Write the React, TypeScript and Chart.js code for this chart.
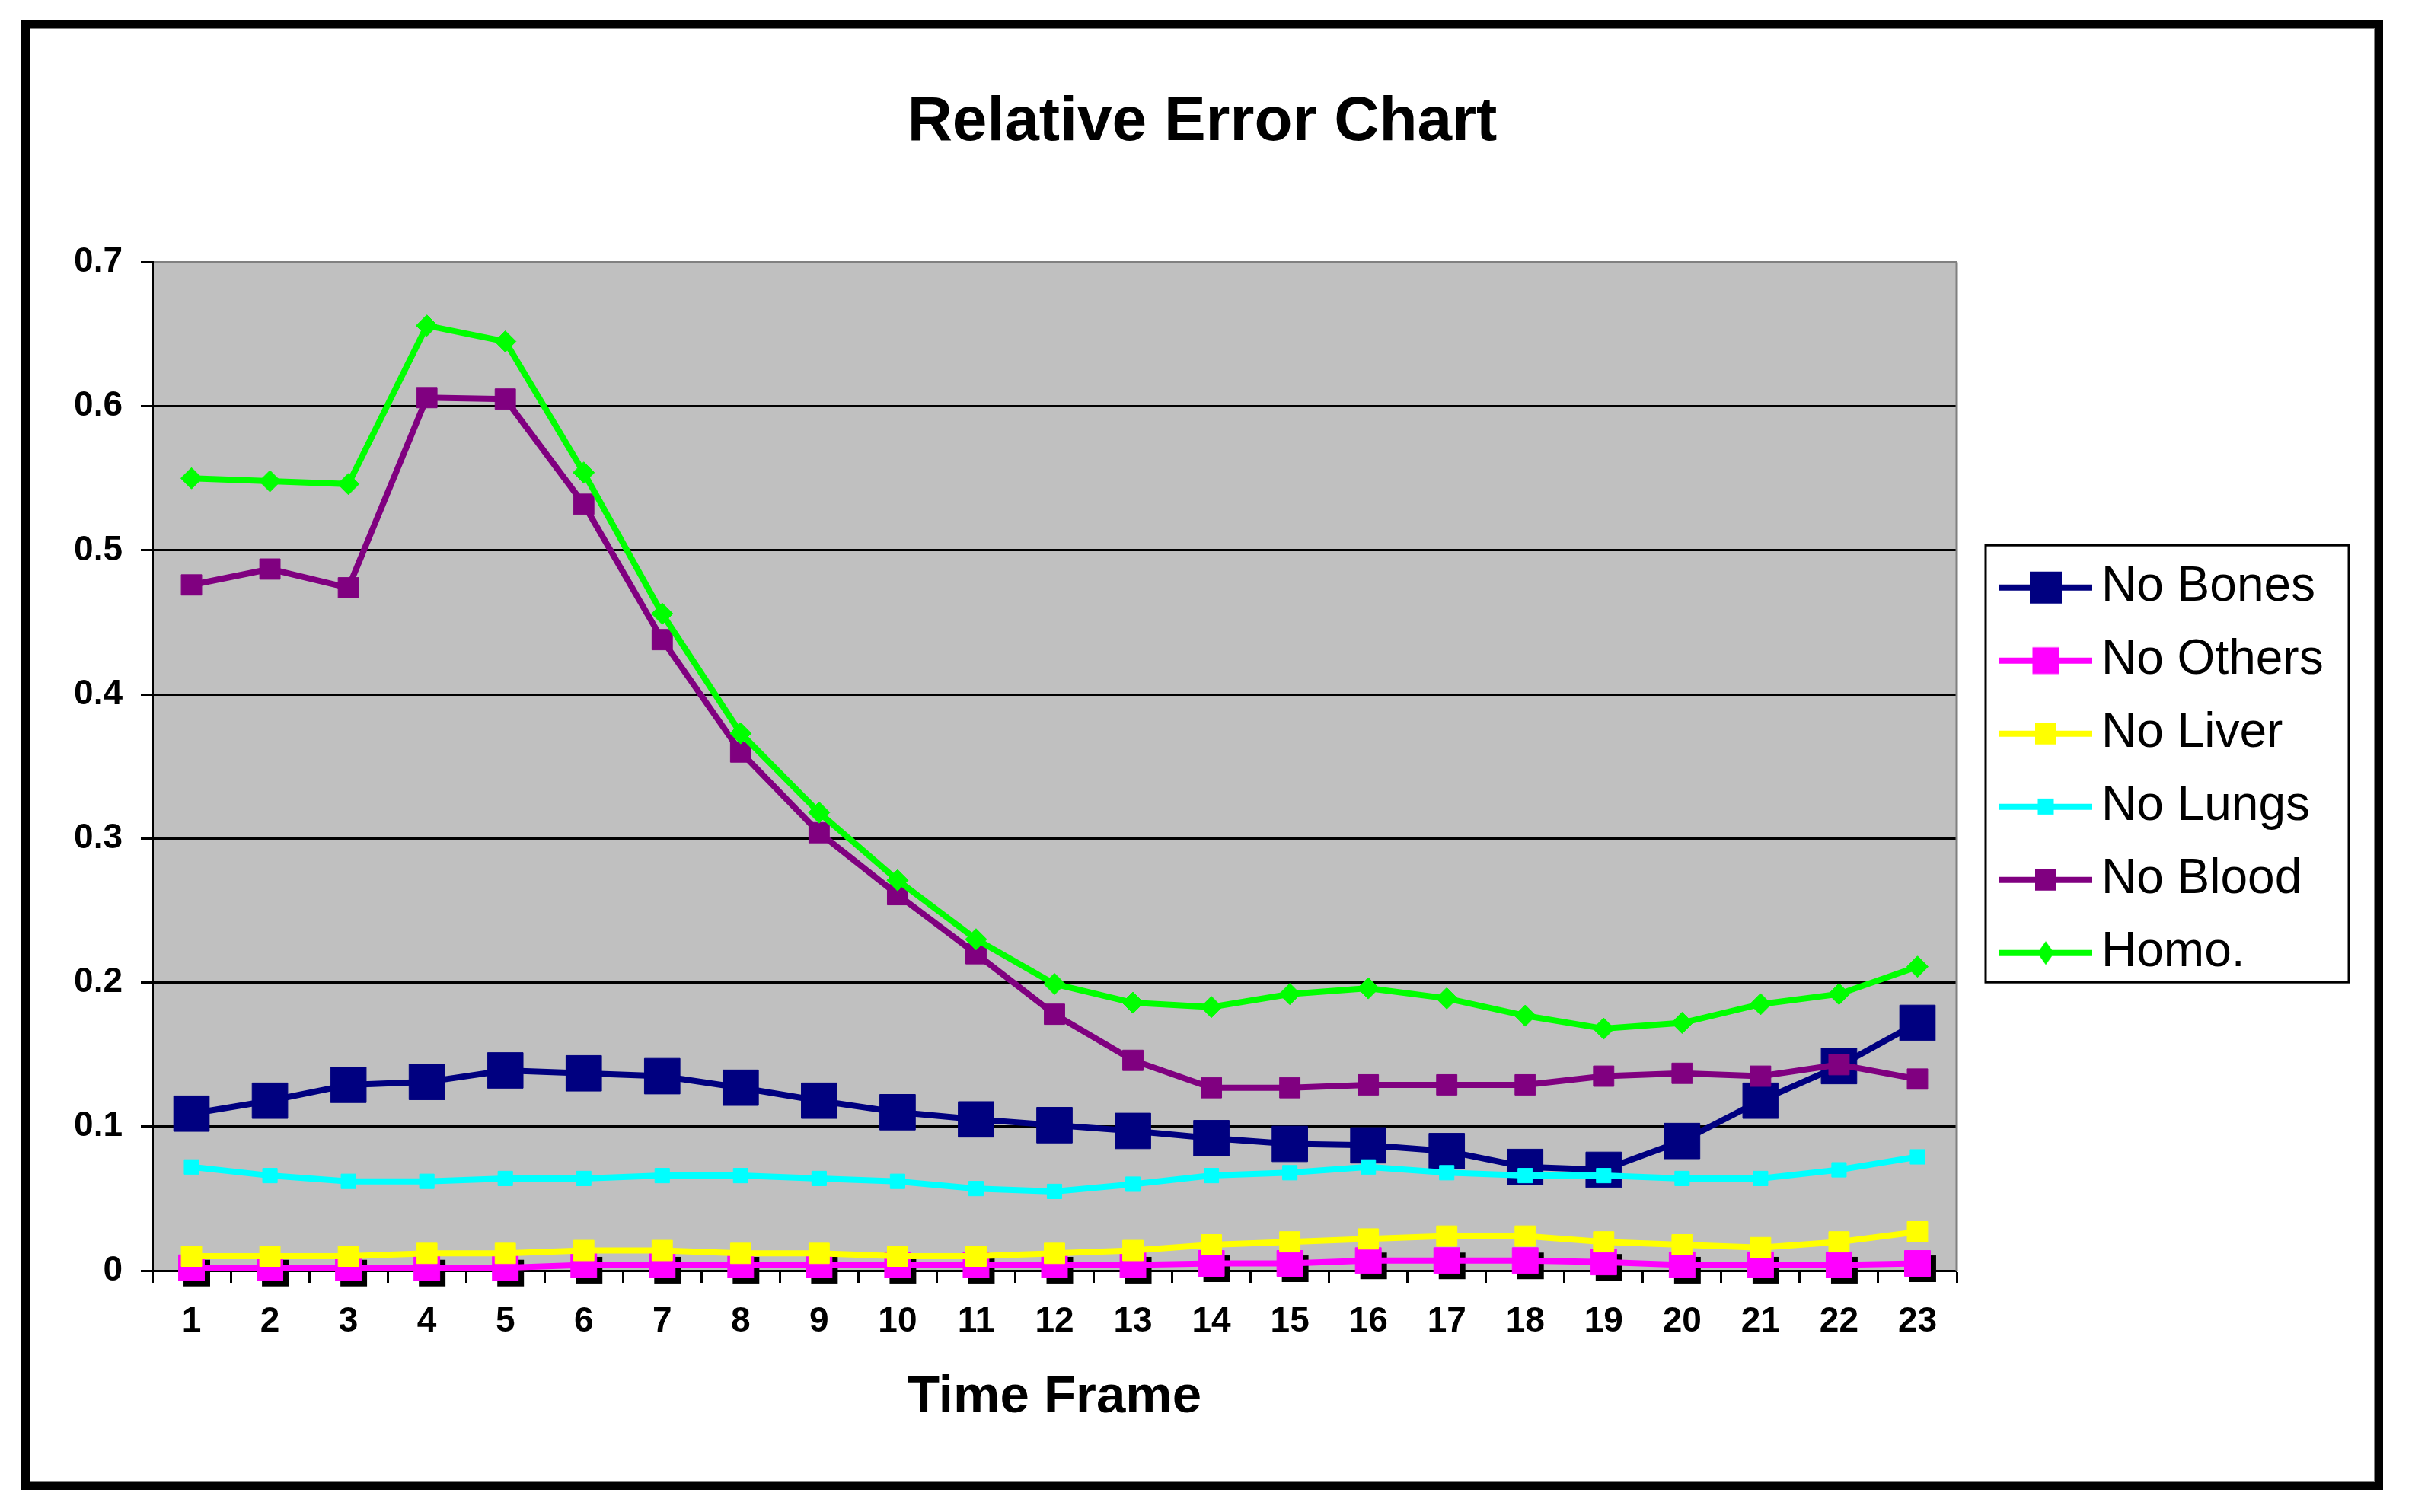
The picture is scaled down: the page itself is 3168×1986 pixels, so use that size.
import React, { useEffect, useRef } from 'react';
import { Chart, registerables } from 'chart.js';

Chart.register(...registerables);

// ---- data ----
const timeFrames = ['1', '2', '3', '4', '5', '6', '7', '8', '9', '10', '11', '12', '13', '14', '15', '16', '17', '18', '19', '20', '21', '22', '23'];

const noBones = [0.109, 0.118, 0.129, 0.131, 0.139, 0.137, 0.135, 0.127, 0.118, 0.110, 0.105, 0.101, 0.097, 0.092, 0.088, 0.087, 0.083, 0.072, 0.070, 0.090, 0.118, 0.142, 0.172];
const noOthers = [0.002, 0.002, 0.002, 0.002, 0.002, 0.004, 0.004, 0.004, 0.004, 0.004, 0.004, 0.004, 0.004, 0.005, 0.005, 0.007, 0.007, 0.007, 0.006, 0.004, 0.004, 0.004, 0.005];
const noLiver = [0.010, 0.010, 0.010, 0.012, 0.012, 0.014, 0.014, 0.012, 0.012, 0.010, 0.010, 0.012, 0.014, 0.018, 0.020, 0.022, 0.024, 0.024, 0.020, 0.018, 0.016, 0.020, 0.027];
const noLungs = [0.072, 0.066, 0.062, 0.062, 0.064, 0.064, 0.066, 0.066, 0.064, 0.062, 0.057, 0.055, 0.060, 0.066, 0.068, 0.072, 0.068, 0.066, 0.066, 0.064, 0.064, 0.070, 0.079];
const noBlood = [0.476, 0.487, 0.474, 0.606, 0.605, 0.532, 0.438, 0.360, 0.304, 0.261, 0.220, 0.178, 0.146, 0.127, 0.127, 0.129, 0.129, 0.129, 0.135, 0.137, 0.135, 0.143, 0.133];
const homo = [0.550, 0.548, 0.546, 0.656, 0.645, 0.554, 0.456, 0.373, 0.318, 0.271, 0.230, 0.199, 0.186, 0.183, 0.192, 0.196, 0.189, 0.177, 0.168, 0.172, 0.185, 0.192, 0.211];

const seriesNames = ['No Bones', 'No Others', 'No Liver', 'No Lungs', 'No Blood', 'Homo.'];
const seriesValues = [noBones, noOthers, noLiver, noLungs, noBlood, homo];
const seriesColors = ['#000080', '#FF00FF', '#FFFF00', '#00FFFF', '#800080', '#00FF00'];
const seriesMarkers = ['rect', 'rect', 'rect', 'rect', 'rect', 'rectRot'];
const markerRadius = [33, 24, 19, 13.5, 19, 14];
const legendMarkerSize = [42, 35, 28, 21, 28, 22];

const chartTitle = 'Relative Error Chart';
const xTitle = 'Time Frame';

const FONT = "'Liberation Sans', Arial, Helvetica, sans-serif";
const LEGEND_WIDTH = 548;

function makeLegendGlyph(color: string, shape: string, size: number) {
  const c = document.createElement('canvas');
  c.width = 166;
  c.height = 60;
  const g = c.getContext('2d') as CanvasRenderingContext2D;
  g.strokeStyle = color;
  g.lineWidth = 8;
  g.beginPath();
  g.moveTo(44, 30);
  g.lineTo(166, 30);
  g.stroke();
  g.fillStyle = color;
  if (shape === 'rect') {
    g.fillRect(105 - size / 2, 30 - size / 2, size, size);
  } else {
    g.beginPath();
    g.moveTo(105, 30 - size * 0.7);
    g.lineTo(105 + size / 2, 30);
    g.lineTo(105, 30 + size * 0.7);
    g.lineTo(105 - size / 2, 30);
    g.closePath();
    g.fill();
  }
  return c;
}

const plotBackground = {
  id: 'plotBackground',
  beforeDraw(chart: any) {
    const { ctx, chartArea: a } = chart;
    ctx.save();
    ctx.fillStyle = '#C0C0C0';
    ctx.fillRect(a.left, a.top, a.right - a.left, a.bottom - a.top);
    ctx.restore();
  },
  beforeDatasetsDraw(chart: any) {
    const { ctx, chartArea: a } = chart;
    ctx.save();
    ctx.strokeStyle = '#808080';
    ctx.lineWidth = 3;
    ctx.beginPath();
    ctx.moveTo(a.right, a.top);
    ctx.lineTo(a.right, a.bottom);
    ctx.stroke();
    ctx.restore();
  },
};

const markerShadow = {
  id: 'markerShadow',
  beforeDatasetDraw(chart: any, args: any) {
    if (args.index !== 1) return;
    const { ctx } = chart;
    ctx.save();
    ctx.fillStyle = '#000';
    for (const el of args.meta.data) {
      const r = el.options.radius;
      const s = 2 * r * Math.SQRT1_2 + 1;
      ctx.fillRect(el.x - s / 2 + 7, el.y - s / 2 + 7, s, s);
    }
    ctx.restore();
  },
};

const legendLayout = {
  id: 'legendLayout',
  beforeLayout(chart: any) {
    const leg = chart.legend;
    if (leg && !leg._fitPatched) {
      const orig = leg.fit;
      leg.fit = function () {
        orig.call(this);
        this.width = LEGEND_WIDTH;
      };
      leg._fitPatched = true;
    }
  },
  afterLayout(chart: any) {
    const leg = chart.legend;
    if (leg) {
      leg.top += 5;
      leg.bottom += 5;
    }
  },
  afterDraw(chart: any) {
    const leg = chart.legend;
    if (!leg) return;
    const pad = 32;
    const colH = leg.columnSizes && leg.columnSizes[0] ? leg.columnSizes[0].height : 576;
    const rowStart = (leg.top + pad + leg.bottom - colH) / 2;
    const { ctx } = chart;
    ctx.save();
    ctx.strokeStyle = '#000';
    ctx.lineWidth = 3;
    ctx.strokeRect(leg.left + 38, rowStart - 23.5, 477, 574);
    ctx.restore();
  },
};

export default function App() {
  const ref = useRef<HTMLCanvasElement | null>(null);

  useEffect(() => {
    if (!ref.current) return;
    const glyphs = seriesNames.map((_, i) => makeLegendGlyph(seriesColors[i], seriesMarkers[i], legendMarkerSize[i]));
    const datasets = seriesNames.map((name, i) => ({
      label: name,
      data: seriesValues[i],
      borderColor: seriesColors[i],
      backgroundColor: seriesColors[i],
      borderWidth: 8,
      tension: 0,
      pointStyle: seriesMarkers[i],
      pointRadius: markerRadius[i],
      pointHoverRadius: markerRadius[i],
      pointBackgroundColor: seriesColors[i],
      pointBorderColor: seriesColors[i],
      pointBorderWidth: 1,
      order: seriesNames.length - i,
      clip: false,
    }));

    const chart = new Chart(ref.current, {
      type: 'line',
      data: { labels: timeFrames, datasets: datasets as any },
      options: {
        responsive: false,
        animation: false,
        devicePixelRatio: 1,
        layout: { padding: { left: 0, right: 0, top: 0, bottom: 0 } },
        plugins: {
          title: {
            display: true,
            text: chartTitle,
            color: '#000',
            font: { family: FONT, size: 82, weight: 'bold', lineHeight: 1.2 },
            padding: { top: 74, bottom: 134 },
          },
          legend: {
            position: 'right',
            align: 'center',
            fullSize: false,
            labels: {
              usePointStyle: true,
              pointStyleWidth: 126,
              padding: 32,
              color: '#000',
              font: { family: FONT, size: 64, lineHeight: 1.2 },
              generateLabels: () =>
                seriesNames.map((name, i) => ({
                  text: name,
                  fillStyle: seriesColors[i],
                  strokeStyle: seriesColors[i],
                  lineWidth: 0,
                  pointStyle: glyphs[i] as any,
                  hidden: false,
                  datasetIndex: i,
                  fontColor: '#000',
                })),
            },
          },
          tooltip: { enabled: false },
        },
        scales: {
          x: {
            type: 'category',
            offset: true,
            grid: {
              display: true,
              drawOnChartArea: false,
              drawTicks: true,
              tickLength: 16,
              tickColor: '#000',
              tickWidth: 3,
              offset: true,
            },
            border: { display: true, color: '#000', width: 3 },
            ticks: {
              color: '#000',
              padding: 24,
              maxRotation: 0,
              autoSkip: false,
              font: { family: FONT, size: 46, weight: 'bold', lineHeight: 1.2 },
            },
            title: {
              display: true,
              text: xTitle,
              color: '#000',
              font: { family: FONT, size: 69, weight: 'bold', lineHeight: 1.2 },
              padding: { top: 6, bottom: 68 },
            },
          },
          y: {
            type: 'linear',
            min: 0,
            max: 0.7,
            afterFit: (scale: any) => {
              scale.width = 160;
            },
            grid: {
              display: true,
              drawOnChartArea: true,
              drawTicks: true,
              tickLength: 15,
              tickColor: '#000',
              tickWidth: 3,
              lineWidth: 3,
              color: (c: any) => (c.tick && c.tick.value > 0.69 ? '#808080' : '#000'),
            },
            border: { display: true, color: '#000', width: 3 },
            ticks: {
              stepSize: 0.1,
              color: '#000',
              padding: 24,
              font: { family: FONT, size: 46, weight: 'bold', lineHeight: 1.2 },
              callback: (v: any) => {
                const n = Number(v);
                return n === 0 ? '0' : n.toFixed(1);
              },
            },
          },
        },
      } as any,
      plugins: [plotBackground, markerShadow, legendLayout],
    });
    return () => chart.destroy();
  }, []);

  return (
    <div
      style={{
        position: 'absolute',
        left: 28,
        top: 26,
        width: 3102,
        height: 1931,
        boxSizing: 'border-box',
        border: '11px solid #000',
        background: '#fff',
      }}
    >
      <div style={{ width: '100%', height: '100%', boxSizing: 'border-box', border: '1px solid #808080' }}>
        <canvas ref={ref} width={3078} height={1907} style={{ display: 'block', width: 3078, height: 1907 }} />
      </div>
    </div>
  );
}
